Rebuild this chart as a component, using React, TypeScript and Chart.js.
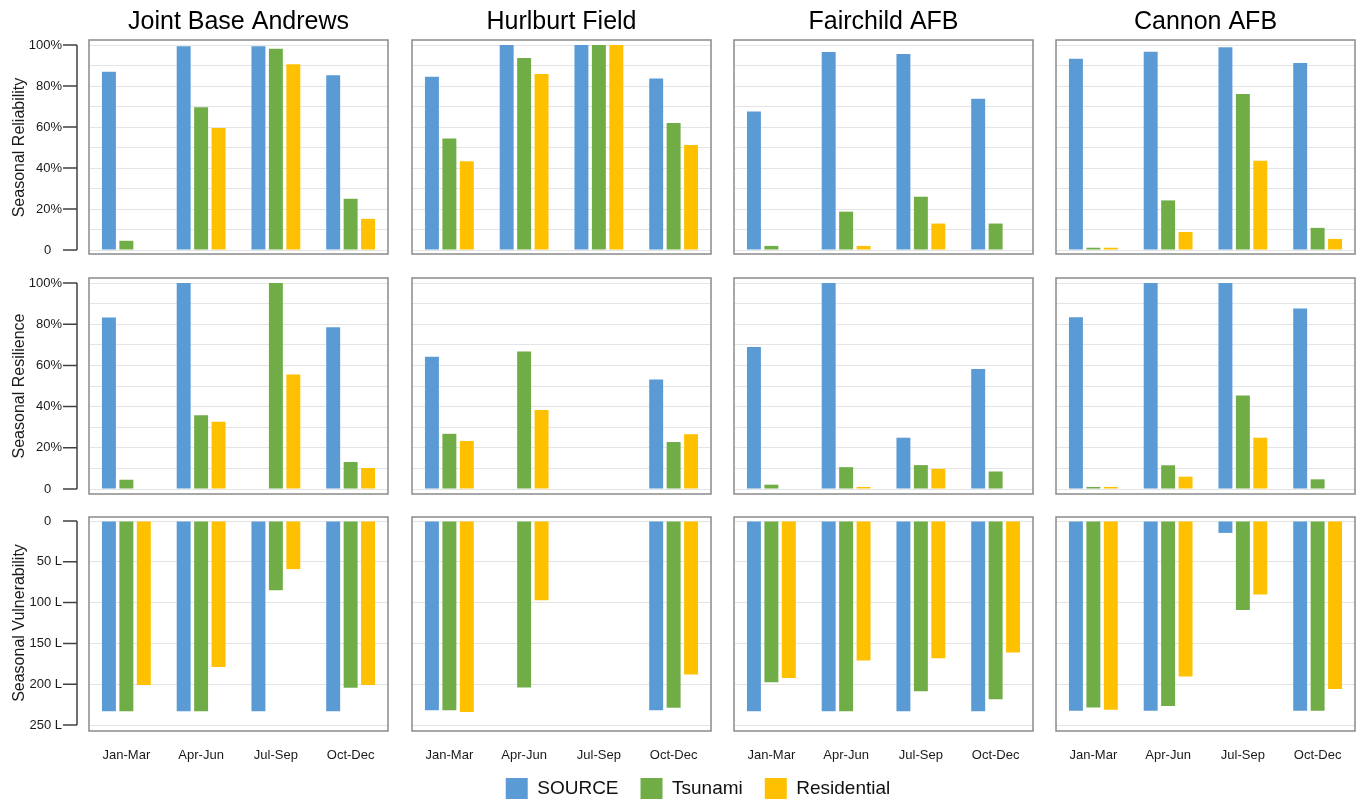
import React, { useEffect, useRef } from 'react';
import { Chart, registerables } from 'chart.js';

Chart.register(...registerables);
Chart.defaults.font.family = '"Liberation Sans", Arial, sans-serif';

// ---------- data ----------
const BASES = ['Joint Base Andrews', 'Hurlburt Field', 'Fairchild AFB', 'Cannon AFB'];
const SEASONS = ['Jan-Mar', 'Apr-Jun', 'Jul-Sep', 'Oct-Dec'];
const SERIES = ['SOURCE', 'Tsunami', 'Residential'];
const METRICS = ['Seasonal Reliability', 'Seasonal Resilience', 'Seasonal Vulnerability'];

// Seasonal reliability (%), rows: SOURCE, Tsunami, Residential
const reliabilityAndrews = [[87, 99.4, 99.4, 85.3], [4.5, 69.6, 98.2, 25], [0, 59.5, 90.6, 15.2]];
const reliabilityHurlburt = [[84.5, 100, 100, 83.7], [54.4, 93.6, 100, 62], [43.3, 85.9, 100, 51.2]];
const reliabilityFairchild = [[67.6, 96.6, 95.6, 73.8], [2, 18.7, 26, 12.9], [0, 2, 12.9, 0]];
const reliabilityCannon = [[93.3, 96.7, 98.9, 91.2], [1.1, 24.2, 76.1, 10.8], [1.1, 8.8, 43.5, 5.4]];

// Seasonal resilience (%)
const resilienceAndrews = [[83.2, 100, 0, 78.5], [4.5, 35.8, 100, 13.1], [0, 32.6, 55.6, 10.2]];
const resilienceHurlburt = [[64.2, 0, 0, 53.2], [26.8, 66.7, 0, 22.8], [23.3, 38.4, 0, 26.6]];
const resilienceFairchild = [[68.9, 100, 24.9, 58.3], [2.1, 10.6, 11.6, 8.5], [0, 1, 9.8, 0]];
const resilienceCannon = [[83.4, 100, 100, 87.6], [1, 11.5, 45.4, 4.7], [1, 6, 24.9, 0]];

// Seasonal vulnerability (L)
const vulnerabilityAndrews = [[233, 233, 233, 233], [233, 233, 85, 204.5], [201, 179, 59, 201]];
const vulnerabilityHurlburt = [[232, 0, 0, 232], [232, 204, 0, 229], [234, 97, 0, 188]];
const vulnerabilityFairchild = [[233, 233, 233, 233], [197.6, 233, 208.6, 218.3], [192.3, 171, 168.2, 161.3]];
const vulnerabilityCannon = [[232.5, 232.5, 14.6, 232.5], [228.5, 226.8, 109, 232.5], [231.3, 190.7, 90.2, 206]];

const PANELS = [
  [reliabilityAndrews, reliabilityHurlburt, reliabilityFairchild, reliabilityCannon],
  [resilienceAndrews, resilienceHurlburt, resilienceFairchild, resilienceCannon],
  [vulnerabilityAndrews, vulnerabilityHurlburt, vulnerabilityFairchild, vulnerabilityCannon],
];

// ---------- styles / layout ----------
const COLORS = ['#5B9BD5', '#70AD47', '#FFC000'];
const CANVAS_LEFT = [0, 404, 726, 1048];
const CANVAS_W = [396, 316, 316, 316];
const PAD_LEFT = [0, 8, 8, 8];
const PAD_RIGHT = [8, 9, 9, 9];
const CANVAS_TOP = [0, 266, 510];
const CANVAS_H = [262, 236, 262];
const PAD_TOP = [0, 17, 11];
const PAD_BOTTOM = [12, 13, 2];
const BOX_PAD = [[5, 4], [5, 5], [4, 6]];

const boxPlugin = {
  id: 'panelBox',
  afterDraw(chart: any, _args: any, opts: any) {
    const { left, right, top, bottom } = chart.chartArea;
    const ctx = chart.ctx;
    ctx.save();
    ctx.strokeStyle = '#8a8a8a';
    ctx.lineWidth = 1.5;
    ctx.strokeRect(left, top - opts.padTop, right - left, bottom - top + opts.padTop + opts.padBottom);
    ctx.restore();
  },
};

const leftAxisPlugin = {
  id: 'leftAxis',
  afterDraw(chart: any, _args: any, opts: any) {
    if (!opts.show) return;
    const y = chart.scales.y;
    const ctx = chart.ctx;
    const x0 = chart.chartArea.left - 12;
    ctx.save();
    ctx.strokeStyle = '#404040';
    ctx.lineWidth = 1.5;
    ctx.beginPath();
    ctx.moveTo(x0, y.getPixelForValue(y.min));
    ctx.lineTo(x0, y.getPixelForValue(y.max));
    for (const t of y.ticks) {
      if (t.value % opts.major === 0) {
        const py = y.getPixelForValue(t.value);
        ctx.moveTo(x0 - 14, py);
        ctx.lineTo(x0, py);
      }
    }
    ctx.stroke();
    ctx.restore();
  },
};

function Panel({ row, col }: { row: number; col: number }) {
  const ref = useRef<HTMLCanvasElement>(null);
  useEffect(() => {
    const values = PANELS[row][col];
    const isVuln = row === 2;
    const showY = col === 0;
    const showX = row === 2;
    const chart = new Chart(ref.current as HTMLCanvasElement, {
      type: 'bar',
      data: {
        labels: SEASONS,
        datasets: SERIES.map((s, i) => ({
          label: s,
          data: values[i],
          backgroundColor: COLORS[i],
          borderWidth: 0,
          categoryPercentage: 0.7,
          barPercentage: 0.8,
        })),
      },
      options: {
        responsive: false,
        maintainAspectRatio: false,
        animation: false,
        layout: {
          padding: { left: PAD_LEFT[col], right: PAD_RIGHT[col], top: PAD_TOP[row], bottom: PAD_BOTTOM[row] },
        },
        plugins: {
          legend: { display: false },
          tooltip: { enabled: false },
          title: {
            display: row === 0,
            text: BASES[col],
            fullSize: false,
            color: '#000',
            font: { size: 25, weight: 'normal' },
            padding: { top: 7.4, bottom: 7.6 },
          },
          panelBox: { padTop: BOX_PAD[row][0], padBottom: BOX_PAD[row][1] },
          leftAxis: { show: showY, major: isVuln ? 50 : 20 },
        } as any,
        scales: {
          x: {
            display: showX,
            grid: { display: false },
            border: { display: false },
            ticks: { color: '#1a1a1a', font: { size: 13 }, padding: 15, autoSkip: false, maxRotation: 0 },
            afterFit: (s: any) => { s.height = showX ? 45 : 0; },
          },
          y: {
            min: 0,
            max: isVuln ? 250 : 100,
            reverse: isVuln,
            border: { display: false },
            grid: {
              color: '#e4e4e4',
              lineWidth: 1,
              drawTicks: showY,
              tickLength: 27,
              tickColor: 'rgba(0,0,0,0)',
            },
            ticks: {
              display: showY,
              stepSize: isVuln ? 50 : 10,
              autoSkip: false,
              padding: 0,
              color: '#1a1a1a',
              font: { size: 13 },
              callback: (v: any) => {
                const n = Number(v);
                if (isVuln) return n === 0 ? '0   ' : `${n} L`;
                if (n % 20 !== 0) return '';
                return n === 0 ? '0   ' : `${n}%`;
              },
            },
            title: {
              display: showY,
              text: METRICS[row],
              color: '#1a1a1a',
              font: { size: 16 },
              padding: { top: 10, bottom: 0 },
            },
            afterFit: (s: any) => { s.width = showY ? 89 : 0; },
          },
        },
      } as any,
      plugins: [boxPlugin, leftAxisPlugin],
    });
    return () => chart.destroy();
  }, [row, col]);
  return (
    <canvas
      ref={ref}
      width={CANVAS_W[col]}
      height={CANVAS_H[row]}
      style={{ position: 'absolute', left: CANVAS_LEFT[col], top: CANVAS_TOP[row], width: CANVAS_W[col], height: CANVAS_H[row] }}
    />
  );
}

function SharedLegend() {
  const ref = useRef<HTMLCanvasElement>(null);
  useEffect(() => {
    const chart = new Chart(ref.current as HTMLCanvasElement, {
      type: 'bar',
      data: {
        labels: [],
        datasets: SERIES.map((s, i) => ({ label: s, data: [], backgroundColor: COLORS[i], borderWidth: 0 })),
      },
      options: {
        responsive: false,
        maintainAspectRatio: false,
        animation: false,
        scales: { x: { display: false }, y: { display: false } },
        plugins: {
          tooltip: { enabled: false },
          legend: {
            display: true,
            position: 'top',
            labels: { boxWidth: 22, boxHeight: 22, padding: 22, color: '#111', font: { size: 19 } },
          },
        },
      } as any,
    });
    return () => chart.destroy();
  }, []);
  return (
    <canvas
      ref={ref}
      width={826}
      height={160}
      style={{ position: 'absolute', left: 285, top: 756, width: 826, height: 160 }}
    />
  );
}

export default function App() {
  const cells: JSX.Element[] = [];
  for (let r = 0; r < 3; r++) {
    for (let c = 0; c < 4; c++) cells.push(<Panel key={`${r}-${c}`} row={r} col={c} />);
  }
  return (
    <div style={{ position: 'absolute', left: 0, top: 0, width: 1369, height: 799, overflow: 'hidden', background: '#fff' }}>
      {cells}
      <SharedLegend />
    </div>
  );
}
